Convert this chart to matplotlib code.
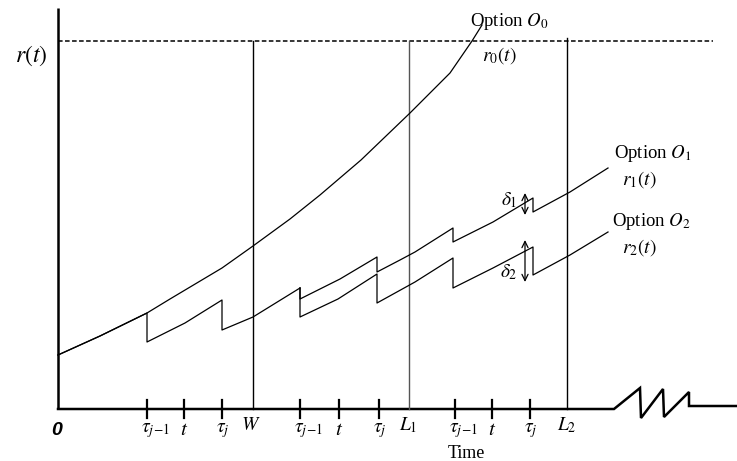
import matplotlib.pyplot as plt

plt.rcParams['mathtext.fontset'] = 'stix'
plt.rcParams['font.family'] = ['Liberation Serif', 'DejaVu Serif']

# schematic values (time runs right, rate runs down in pixel units)
r0_time = [58, 100, 147, 170, 222, 253, 290, 320, 361, 410, 450, 472, 482]
r0_rate = [355, 336, 313, 299, 268, 246, 219, 195, 160, 113, 73, 41, 25]

# r1 and r2 share one saw-tooth path until the second tau_{j-1}
shared_time = [58, 100, 147, 147, 185, 222, 222, 253, 300]
shared_rate = [355, 336, 313, 342, 323, 300, 330, 317, 288]

r1_time = [300, 300, 340, 377, 377, 400, 415, 453, 453, 493, 533, 533, 570, 608]
r1_rate = [288, 299, 279, 257, 272, 260, 252, 228, 242, 222, 198, 212, 192, 168]

r2_time = [300, 300, 338, 377, 377, 415, 453, 453, 493, 533, 533, 570, 608]
r2_rate = [288, 317, 299, 274, 303, 282, 258, 288, 268, 247, 275, 255, 232]

# time axis with the break zig-zag on the right
axis_time = [58, 614, 640, 641, 663, 664, 689, 689, 737]
axis_rate = [409, 409, 388, 418, 389, 417, 392, 406, 406]

tick_pos = [147, 184, 222, 300, 339, 379, 455, 492, 530]
tick_labels = [r'$\tau_{j\!-\!1}$', r'$t$', r'$\tau_j$'] * 3
marker_pos = [253, 409, 567]
marker_labels = [r'$W$', r'$L_1$', r'$L_2$']
marker_colors = ['black', '#555555', 'black']

cap_level = 41
delta_arrows = {r'$\delta_1$': (193, 215, 200), r'$\delta_2$': (240, 282, 272)}

fig = plt.figure(figsize=(7.37, 4.61), dpi=100)
ax = fig.add_axes([0, 0, 1, 1])
ax.set_xlim(0, 737)
ax.set_ylim(461, 0)
ax.axis('off')

# axes
ax.plot([58, 58], [8, 409], color='black', lw=1.8, solid_capstyle='butt')
ax.plot(axis_time, axis_rate, color='black', lw=1.8, solid_joinstyle='miter')
ax.plot([58, 713], [cap_level, cap_level], color='black', lw=1.1, ls=(0, (3, 1.6)))

for x in tick_pos:
    ax.plot([x, x], [400, 418], color='black', lw=1.6)
for x, c in zip(marker_pos, marker_colors):
    ax.plot([x, x], [cap_level - 3 if x == 567 else cap_level, 409], color=c, lw=1.0)

# rate curves
ax.plot(r0_time, r0_rate, color='black', lw=0.9)
ax.plot(shared_time, shared_rate, color='black', lw=0.9)
ax.plot(r1_time, r1_rate, color='black', lw=0.9)
ax.plot(r2_time, r2_rate, color='black', lw=0.9)

for lab, (top, bot, ly) in delta_arrows.items():
    ax.annotate('', xy=(525, top), xytext=(525, bot),
                arrowprops=dict(arrowstyle='<->,head_length=0.45,head_width=0.22',
                                lw=0.9, color='black', shrinkA=0, shrinkB=0))
    ax.text(509, ly, lab, fontsize=14, ha='center', va='center')

# labels
ax.text(31, 56, r'$r\left(t\right)$', fontsize=17, ha='center', va='center')
ax.text(57, 430, '0', fontsize=14, ha='center', va='center',
        family='Liberation Sans', weight='bold', style='italic')
ax.text(466, 453, 'Time', fontsize=13, ha='center', va='center')

for x, lab in zip(tick_pos, tick_labels):
    if lab == r'$t$':
        ax.text(x, 430, lab, fontsize=15, ha='center', va='center')
    else:
        ax.text(x - 6, 431, lab, fontsize=14, ha='left', va='center')

for x, lab in zip(marker_pos, marker_labels):
    if lab == r'$W$':
        ax.text(x - 2, 425, lab, fontsize=14, ha='center', va='center')
    else:
        ax.text(x - 10, 425, lab, fontsize=14, ha='left', va='center')

ax.text(470, 22, r'Option $O_{\mathit{0}}$', fontsize=13.5, ha='left', va='center')
ax.text(482, 56, r'$r_0\left(t\right)$', fontsize=14, ha='left', va='center')
ax.text(614, 153, r'Option $O_{\mathit{1}}$', fontsize=13.5, ha='left', va='center')
ax.text(622, 180, r'$r_1\left(t\right)$', fontsize=14, ha='left', va='center')
ax.text(612, 221, r'Option $O_{\mathit{2}}$', fontsize=13.5, ha='left', va='center')
ax.text(622, 248, r'$r_2\left(t\right)$', fontsize=14, ha='left', va='center')

fig.savefig('out.png', dpi=100)
